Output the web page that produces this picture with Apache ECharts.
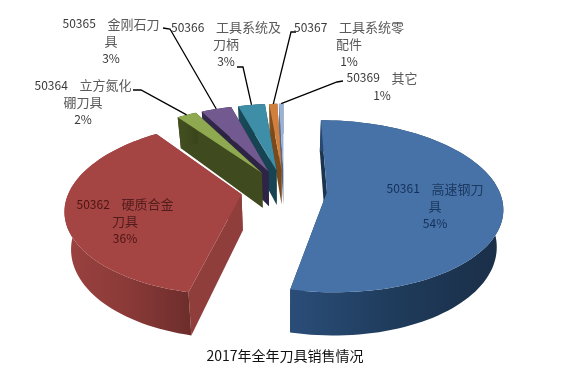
<!DOCTYPE html>
<html>
<head>
<meta charset="utf-8">
<style>html,body{margin:0;padding:0;background:#fff}#c{width:562px;height:374px}</style>
<script src="https://cdn.jsdelivr.net/npm/echarts@6/dist/echarts.min.js"></script>
</head>
<body>
<div id="c"></div>
<script>
// ---- data ----
const titleText = '2017年全年刀具销售情况';
const codes = ['50361','50362','50364','50365','50366','50367','50369'];
const sliceNames = ['高速钢刀\n具','硬质合金\n刀具','立方氮化\n硼刀具','金刚石刀\n具','工具系统及\n刀柄','工具系统零\n配件','其它'];
const percentLabels = ['54%','36%','2%','3%','3%','1%','1%'];
// slice sizes estimated from the drawn angles (percent, before rounding)
const values = [53.5,36.5,2.2,3.4,3.0,0.9,0.5];

// ---- style & layout ----
const topColors = ['#4672a8','#a54543','#8fa951','#72598f','#3f8ea8','#d0803c','#9ab2d6'];
const wallColors = [['#2a4d78','#1f3b5b','#1a2e47'],['#9a4240','#8a3a38','#6c2d2b'],['#444f20','#3f4a1e','#3a441b'],
                    ['#352a50','#2e2546','#2a2140'],['#1a4a5a','#174452','#153e4b'],['#85521f','#7a4a1c','#6d4219'],['#5f7396','#56688a','#4e5f7e']];
const sideColors = ['#1b3450','#8f3e3c','#3f4a1e','#2e2546','#174452','#7a4a1c','#56688a'];
const textColors = ['#14305a','#4a1414','#3a3a3a','#3a3a3a','#3a3a3a','#3a3a3a','#3a3a3a'];
const nameColors = ['#1d3a60','#521c1c','#5a5a5a','#5a5a5a','#5a5a5a','#5a5a5a','#5a5a5a'];
const labelAnchors = [[435,180],[125,195.5],[83,76.5],[111,15],[226,18.5],[349,18.5],[382,69]];
const leaderKnees = [null,null,[[141,90],[133,90]],[[170,29],[163,28]],[[243,67],[237,67]],[[291,32],[296,32]],[[337,82],[343,81]]];

const CX = 284, CY = 190, RX = 172, RY = 83, PERSP = 0.162, EXPLODE = 0.25, DEPTH = 36, BOTTOM_X = 0.97;
const RAD = Math.PI / 180;

const total = values.reduce((a, b) => a + b, 0);
let acc = 0;
const spans = values.map(v => { const s = acc / total * 360; acc += v; return [s, acc / total * 360]; });

function project(i, theta, r) {
  const mid = (spans[i][0] + spans[i][1]) / 2;
  const X = r * Math.sin(theta * RAD) + EXPLODE * Math.sin(mid * RAD);
  const T = -r * Math.cos(theta * RAD) - EXPLODE * Math.cos(mid * RAD);
  const s = 1 / (1 - PERSP * T);
  return { x: CX + RX * s * X, y: CY + RY * s * T, s };
}
const upper = p => [p.x, p.y];
const lower = p => [CX + (p.x - CX) * BOTTOM_X, p.y + DEPTH * p.s];

function renderSlice(params, api) {
  const i = api.value(0);
  const [a0, a1] = spans[i];
  const steps = Math.max(4, Math.ceil((a1 - a0) / 2));
  const arc = [];
  for (let k = 0; k <= steps; k++) arc.push(project(i, a0 + (a1 - a0) * k / steps, 1));
  const apex = project(i, 0, 0);
  const children = [];
  const poly = (points, fill) => children.push({ type: 'polygon', shape: { points }, style: { fill, stroke: null } });
  const first = arc[0], last = arc[arc.length - 1];
  poly([upper(apex), upper(last), lower(last), lower(apex)], sideColors[i]);
  poly([upper(apex), upper(first), lower(first), lower(apex)], sideColors[i]);
  const wc = wallColors[i];
  poly(arc.map(upper).concat(arc.map(lower).reverse()), {
    type: 'linear', x: 1, y: 0, x2: 0, y2: 0,
    colorStops: [{ offset: 0, color: wc[2] }, { offset: 0.5, color: wc[1] }, { offset: 1, color: wc[0] }]
  });
  poly([upper(apex)].concat(arc.map(upper)), topColors[i]);

  const knees = leaderKnees[i];
  if (knees) {
    const m = project(i, (a0 + a1) / 2, 1);
    children.push({ type: 'polyline', z2: 900, shape: { points: [[m.x, m.y]].concat(knees) },
      style: { stroke: '#000', lineWidth: 1.3, fill: null } });
  }
  const nameParts = sliceNames[i].split('\n');
  const line1 = '{code|' + codes[i] + '}{name|    ' + nameParts[0] + '}';
  const rest = nameParts.slice(1).map(t => '{name|' + t + '}');
  const text = [line1].concat(rest, ['{pct|' + percentLabels[i] + '}']).join('\n');
  const labelFont = '"Noto Sans CJK SC"';
  children.push({ type: 'text', z2: 1000, style: {
    x: labelAnchors[i][0], y: labelAnchors[i][1], text, align: 'center', verticalAlign: 'top',
    rich: {
      code: { fontFamily: labelFont, fontSize: 12, lineHeight: 17.3, fill: textColors[i] },
      name: { fontFamily: labelFont, fontSize: 13, lineHeight: 17.3, fill: nameColors[i] },
      pct: { fontFamily: labelFont, fontSize: 12, lineHeight: 17.3, fill: textColors[i] }
    }
  } });
  return { type: 'group', children };
}

const chart = echarts.init(document.getElementById('c'), null, { renderer: 'canvas' });
// painted back to front: the small slices first, then red, then blue
const seriesData = values.map((v, i) => [i, v]).reverse();
chart.setOption({
  animation: false,
  backgroundColor: '#ffffff',
  title: {
    text: titleText, left: 280, top: 344, textAlign: 'center',
    textStyle: { fontFamily: '"Noto Sans CJK SC"', fontSize: 14, fontWeight: 'normal', color: '#111' }
  },
  series: [{ type: 'custom', coordinateSystem: 'none', renderItem: renderSlice, data: seriesData, silent: true }]
});
</script>
</body>
</html>
